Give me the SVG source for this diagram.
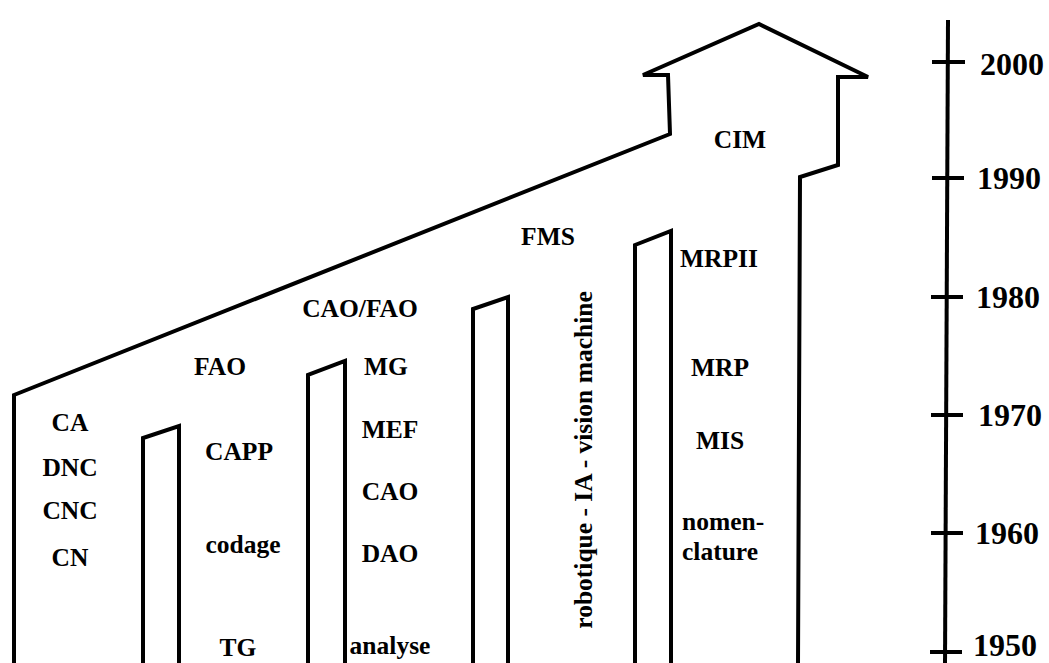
<svg xmlns="http://www.w3.org/2000/svg" width="1049" height="663" viewBox="0 0 1049 663">
<style>
.ln{fill:none;stroke:#000;stroke-width:4;stroke-linejoin:miter;stroke-linecap:butt}
.t{font-family:"Liberation Serif","Times New Roman",serif;font-weight:bold;font-size:25.5px;fill:#000;text-anchor:middle}
.tl{text-anchor:start}
.ax{font-family:"Liberation Serif","Times New Roman",serif;font-weight:bold;font-size:32px;fill:#000;text-anchor:start}
</style>
<rect width="1049" height="663" fill="#fff"/>
<g id="building">
<path class="ln" d="M14,665 V395 L670,134 L668,75 L643,75 L759,24 L868,77 L838,77 L838,165 L800,177 L798,665"/>
</g>
<g id="pillars">
<path id="pillar1" class="ln" d="M143,665 V438 L179,426 V665"/>
<path id="pillar2" class="ln" d="M308,665 V375 L345,361 V665"/>
<path id="pillar3" class="ln" d="M473,665 V309 L508,297 V665"/>
<path id="pillar4" class="ln" d="M635,665 V245 L671,231 V665"/>
</g>
<g id="axis">
<path class="ln" d="M948,20 L945,665"/>
<path class="ln" d="M932,62 H965 M932,178 H964 M931,297 H963 M931,415 H963 M931,533 H963 M930,652 H962"/>
<text class="ax" x="980" y="75">2000</text>
<text class="ax" x="977" y="189">1990</text>
<text class="ax" x="976" y="308">1980</text>
<text class="ax" x="978" y="426">1970</text>
<text class="ax" x="975" y="544">1960</text>
<text class="ax" x="973" y="656">1950</text>
</g>
<g id="col1">
<text class="t" x="70" y="431">CA</text>
<text class="t" x="70" y="476">DNC</text>
<text class="t" x="70" y="519">CNC</text>
<text class="t" x="70" y="566">CN</text>
</g>
<g id="col2">
<text class="t" x="220" y="375">FAO</text>
<text class="t" x="239" y="460">CAPP</text>
<text class="t" x="243" y="553">codage</text>
<text class="t" x="238" y="656">TG</text>
</g>
<g id="col3">
<text class="t" x="360" y="317">CAO/FAO</text>
<text class="t" x="386" y="375">MG</text>
<text class="t" x="390" y="438">MEF</text>
<text class="t" x="390" y="500">CAO</text>
<text class="t" x="390" y="562">DAO</text>
<text class="t" x="390" y="654">analyse</text>
</g>
<g id="col4">
<text class="t" x="548" y="245">FMS</text>
<text class="t" transform="translate(592,460) rotate(-90)">robotique - IA - vision machine</text>
</g>
<g id="col5">
<text class="t" x="740" y="148">CIM</text>
<text class="t" x="719" y="267">MRPII</text>
<text class="t" x="720" y="376">MRP</text>
<text class="t" x="720" y="449">MIS</text>
<text class="t tl" x="682" y="530">nomen-</text>
<text class="t tl" x="682" y="560">clature</text>
</g>
</svg>
